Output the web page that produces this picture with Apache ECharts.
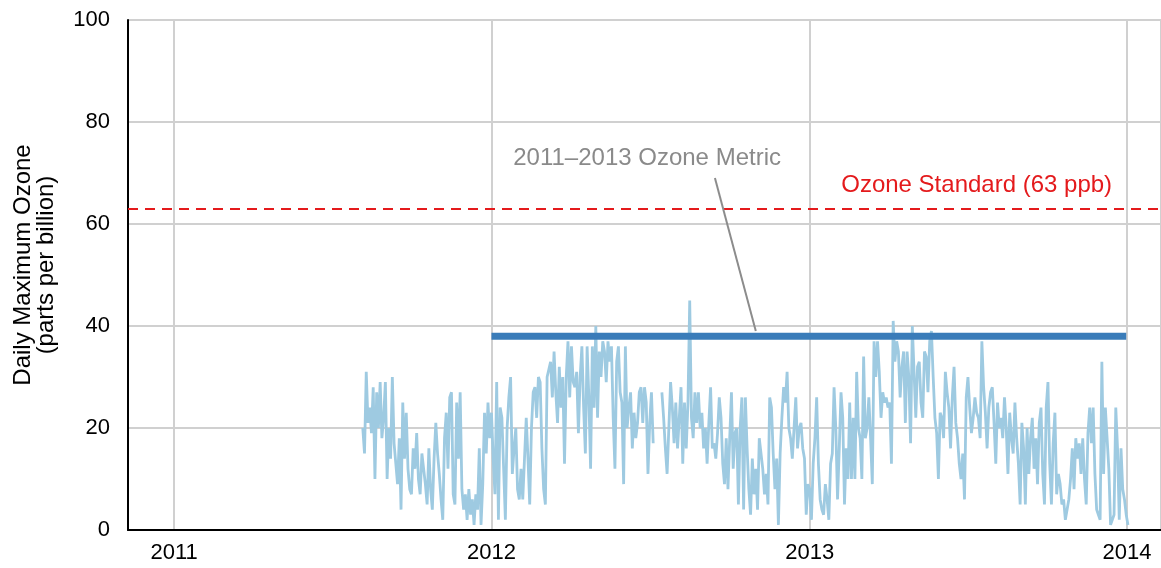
<!DOCTYPE html>
<html><head><meta charset="utf-8">
<script src="https://cdn.jsdelivr.net/npm/echarts@6/dist/echarts.min.js"></script>
<style>html,body{margin:0;padding:0;background:#fff}#c{width:1161px;height:568px}</style>
</head><body><div id="c"></div>
<script>
// ---- data ----
const seriesStart = '2011-08-06';
const stepDays = 2;
const ozone = [
 20,15,31,21,24,19,28,10,27,20,29,18,22,29,10,20,14,30,17,13,9,18,4,25,14,23,12,8,7,16,12,19,10,7,15,12,9,5,16,8,4,14,21,15,11,6,2,18,23,12,26,27,7,
 5,25,14,27,8,4,7,2,8,3,6,1,7,4,16,1,9,23,15,25,18,23,14,7,29,2,24,22,12,2,20,26,30,11,16,20,8,6,12,6,14,22,14,5,20,27,28,22,30,29,16,8,5,30,30,
 33,26,35,27,21,32,24,30,13,30,37,26,36,29,28,31,19,30,36,24,15,36,26,12,36,24,40,22,35,30,37,35,29,37,33,36,22,12,33,36,27,25,9,36,20,24,27,16,23,18,21,27,28,21,28,
 25,11,21,27,17,null,null,null,null,27,22,16,11,20,29,24,17,25,16,22,28,13,25,16,25,45,22,18,27,21,27,20,23,16,20,13,21,28,16,17,14,19,26,22,13,9,18,8,18,27,12,19,20,5,20,
 26,4,26,16,8,3,14,7,12,4,18,18,12,7,11,5,26,24,15,8,14,1,15,22,28,25,31,20,18,14,20,26,16,20,21,16,14,3,9,8,2,13,18,26,13,6,4,3,9,6,2,13,15,28,20,
 6,16,27,22,5,16,10,25,10,22,10,31,20,18,10,34,18,20,26,18,9,37,30,37,31,22,27,25,26,24,25,13,41,33,37,35,26,32,35,21,35,30,17,40,31,22,32,33,25,22,35,34,27,37,
 39,30,22,19,10,23,22,18,31,27,24,16,26,32,21,18,13,10,15,6,26,30,24,19,22,26,23,22,18,37,28,23,16,24,27,28,21,13,25,20,22,18,26,20,11,23,18,15,25,18,13,5,21,16,5,
 20,11,18,22,12,18,9,21,24,11,5,24,29,13,5,17,23,7,11,9,5,6,2,2,6,10,16,8,18,14,17,11,18,10,5,19,24,17,24,11,4,3,2,33,11,24,18,12,1,2,3,24,16,2,16,8,6,3,1
];
const yTicks = [0, 20, 40, 60, 80, 100];
const xRange = ['2010-11-09', '2014-02-09'];
const standardValue = 63;
const standardLabel = 'Ozone Standard (63 ppb)';
const standardLabelAt = ['2013-07-12', 67.6];
const metricValue = 38;
const metricPeriod = ['2012-01-01', '2013-12-31'];
const metricLabel = '2011\u20132013 Ozone Metric';
const metricLabelAt = ['2012-06-28', 72.9];
const leaderFrom = ['2012-09-14', 69];
const leaderTo = ['2012-10-31', 39];
const yAxisTitle = 'Daily Maximum Ozone\n(parts per billion)';

// ---- build ----
const d = s => +new Date(s + 'T00:00:00');
const DAY = 86400000;
const t0 = d(seriesStart);
const ozoneData = ozone.map((v, i) => [t0 + i * stepDays * DAY, v]);
const metricData = metricPeriod.map(s => [d(s), metricValue]);
const FONT = "'Liberation Sans', Arial, sans-serif";

const chart = echarts.init(document.getElementById('c'), null, {renderer: 'canvas'});
chart.setOption({
  animation: false,
  backgroundColor: '#fff',
  grid: {left: 128, right: 0, top: 20, bottom: 38, containLabel: false, outerBoundsMode: 'none'},
  xAxis: {
    type: 'time',
    min: d(xRange[0]), max: d(xRange[1]),
    minInterval: 365 * DAY,
    axisLine: {show: true, lineStyle: {color: '#000', width: 2}},
    axisTick: {show: false},
    axisLabel: {
      formatter: '{yyyy}', color: '#000', fontSize: 22, fontFamily: FONT, margin: 12,
      showMinLabel: false, showMaxLabel: false
    },
    splitLine: {show: true, lineStyle: {color: '#d0d0d0', width: 2}}
  },
  yAxis: {
    type: 'value', min: yTicks[0], max: yTicks[yTicks.length - 1], interval: yTicks[1] - yTicks[0],
    name: yAxisTitle, nameLocation: 'middle', nameGap: 70, nameRotate: 90,
    nameTextStyle: {color: '#000', fontSize: 24, fontFamily: FONT, lineHeight: 23, padding: [0, 0, 0, 20]},
    axisLine: {show: true, lineStyle: {color: '#000', width: 2}},
    axisTick: {show: false},
    axisLabel: {color: '#000', fontSize: 22, fontFamily: FONT, margin: 18},
    splitLine: {show: true, lineStyle: {color: '#d0d0d0', width: 2}}
  },
  series: [
    {
      name: 'ozone', type: 'line', data: ozoneData, showSymbol: false, symbol: 'none',
      connectNulls: false,
      lineStyle: {color: '#9ecae1', width: 2.8}, itemStyle: {color: '#9ecae1'},
      z: 2,
      markLine: {
        silent: true, symbol: 'none',
        data: [{yAxis: standardValue}],
        lineStyle: {color: '#e41a1c', width: 2, type: [10, 7]},
        label: {show: false}
      },
      markPoint: {
        silent: true,
        data: [{coord: [d(standardLabelAt[0]), standardLabelAt[1]], symbolSize: 0,
          label: {show: true, position: 'inside', formatter: standardLabel, color: '#e41a1c',
            fontSize: 24, fontFamily: FONT}}]
      }
    },
    {
      name: 'metric', type: 'line', data: metricData, showSymbol: false, symbol: 'none',
      lineStyle: {color: '#3a7cb9', width: 7, cap: 'butt'}, itemStyle: {color: '#3a7cb9'},
      z: 3,
      markLine: {
        silent: true, symbol: 'none',
        data: [[{coord: [d(leaderFrom[0]), leaderFrom[1]]}, {coord: [d(leaderTo[0]), leaderTo[1]]}]],
        lineStyle: {color: '#8c8c8c', width: 2, type: 'solid'},
        label: {show: false}
      },
      markPoint: {
        silent: true,
        data: [{coord: [d(metricLabelAt[0]), metricLabelAt[1]], symbolSize: 0,
          label: {show: true, position: 'inside', formatter: metricLabel, color: '#8a8a8a',
            fontSize: 24, fontFamily: FONT}}]
      }
    }
  ]
});
</script></body></html>
